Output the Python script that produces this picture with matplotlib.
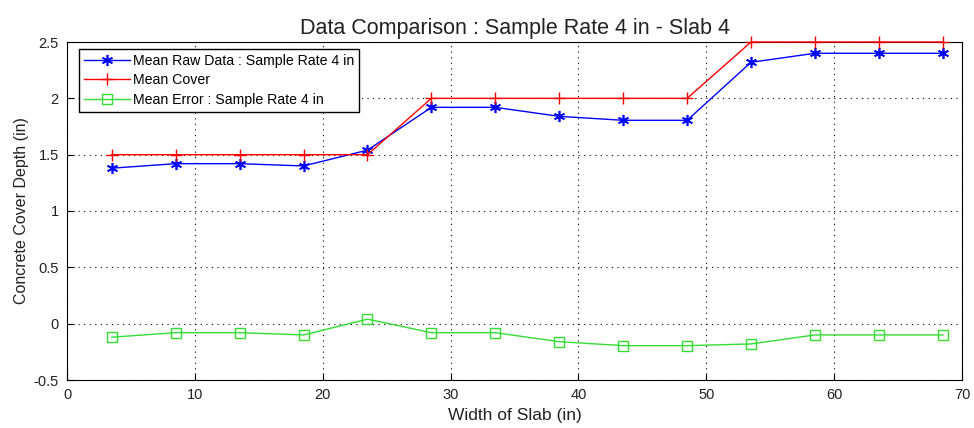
import numpy as np
import matplotlib
matplotlib.use('Agg')
import matplotlib.pyplot as plt

plt.rcParams['font.family'] = ['Liberation Sans', 'DejaVu Sans']

# slab width positions (in) and measured values
width = [3.5, 8.5, 13.5, 18.5, 23.5, 28.5, 33.5, 38.5, 43.5, 48.5, 53.5, 58.5, 63.5, 68.5]
cover = [1.5, 1.5, 1.5, 1.5, 1.5, 2.0, 2.0, 2.0, 2.0, 2.0, 2.5, 2.5, 2.5, 2.5]
raw = [1.38, 1.42, 1.42, 1.40, 1.54, 1.92, 1.92, 1.84, 1.805, 1.805, 2.32, 2.40, 2.40, 2.40]
error = [-0.12, -0.08, -0.08, -0.10, 0.04, -0.08, -0.08, -0.16, -0.195, -0.195, -0.18, -0.10, -0.10, -0.10]

fig = plt.figure(figsize=(9.74, 4.28), dpi=100)
ax = fig.add_axes([67/974, 1-380/428, (962-67)/974, (380-42)/428])

asterisk = (6, 2, 0)
ax.plot(width, raw, color='#0000ff', marker=asterisk, markersize=8, mew=1.2, lw=1,
        label='Mean Raw Data : Sample Rate 4 in', clip_on=False, zorder=3)
ax.plot(width, cover, color='#ff0000', marker='+', markersize=9, mew=1, lw=1,
        label='Mean Cover', clip_on=False, zorder=3)
ax.plot(width, error, color='#33dd33', marker='s', markersize=7, mfc='none', mew=1, lw=1,
        label='Mean Error : Sample Rate 4 in', clip_on=False, zorder=3)

ax.set_xlim(0, 70)
ax.set_ylim(-0.5, 2.5)
ax.set_xticks(np.arange(0, 71, 10))
ax.set_yticks([-0.5, 0, 0.5, 1, 1.5, 2, 2.5])
ax.set_yticklabels(['-0.5', '0', '0.5', '1', '1.5', '2', '2.5'])
ax.grid(True, linestyle=(0, (1, 4)), color='black', lw=0.8)
ax.tick_params(direction='in', length=5, labelsize=10.5, top=False, right=False,
               labelcolor='#222222', pad=6)
for s in ax.spines.values():
    s.set_linewidth(0.8)

ax.set_title('Data Comparison : Sample Rate 4 in - Slab 4', fontsize=15.5, pad=6,
             color='#222222')
ax.set_xlabel('Width of Slab (in)', fontsize=12.5, color='#222222', labelpad=4)
ax.set_ylabel('Concrete Cover Depth (in)', fontsize=11.5, color='#222222', labelpad=3)

leg = ax.legend(loc='upper left', bbox_to_anchor=(0.013, 0.98), fontsize=10.2,
                fancybox=False, edgecolor='black', framealpha=1, handlelength=3.3,
                borderaxespad=0, handletextpad=0.2, labelspacing=0.4,
                borderpad=0.35)
leg.get_frame().set_linewidth(1)

fig.savefig('out.png', dpi=100)
